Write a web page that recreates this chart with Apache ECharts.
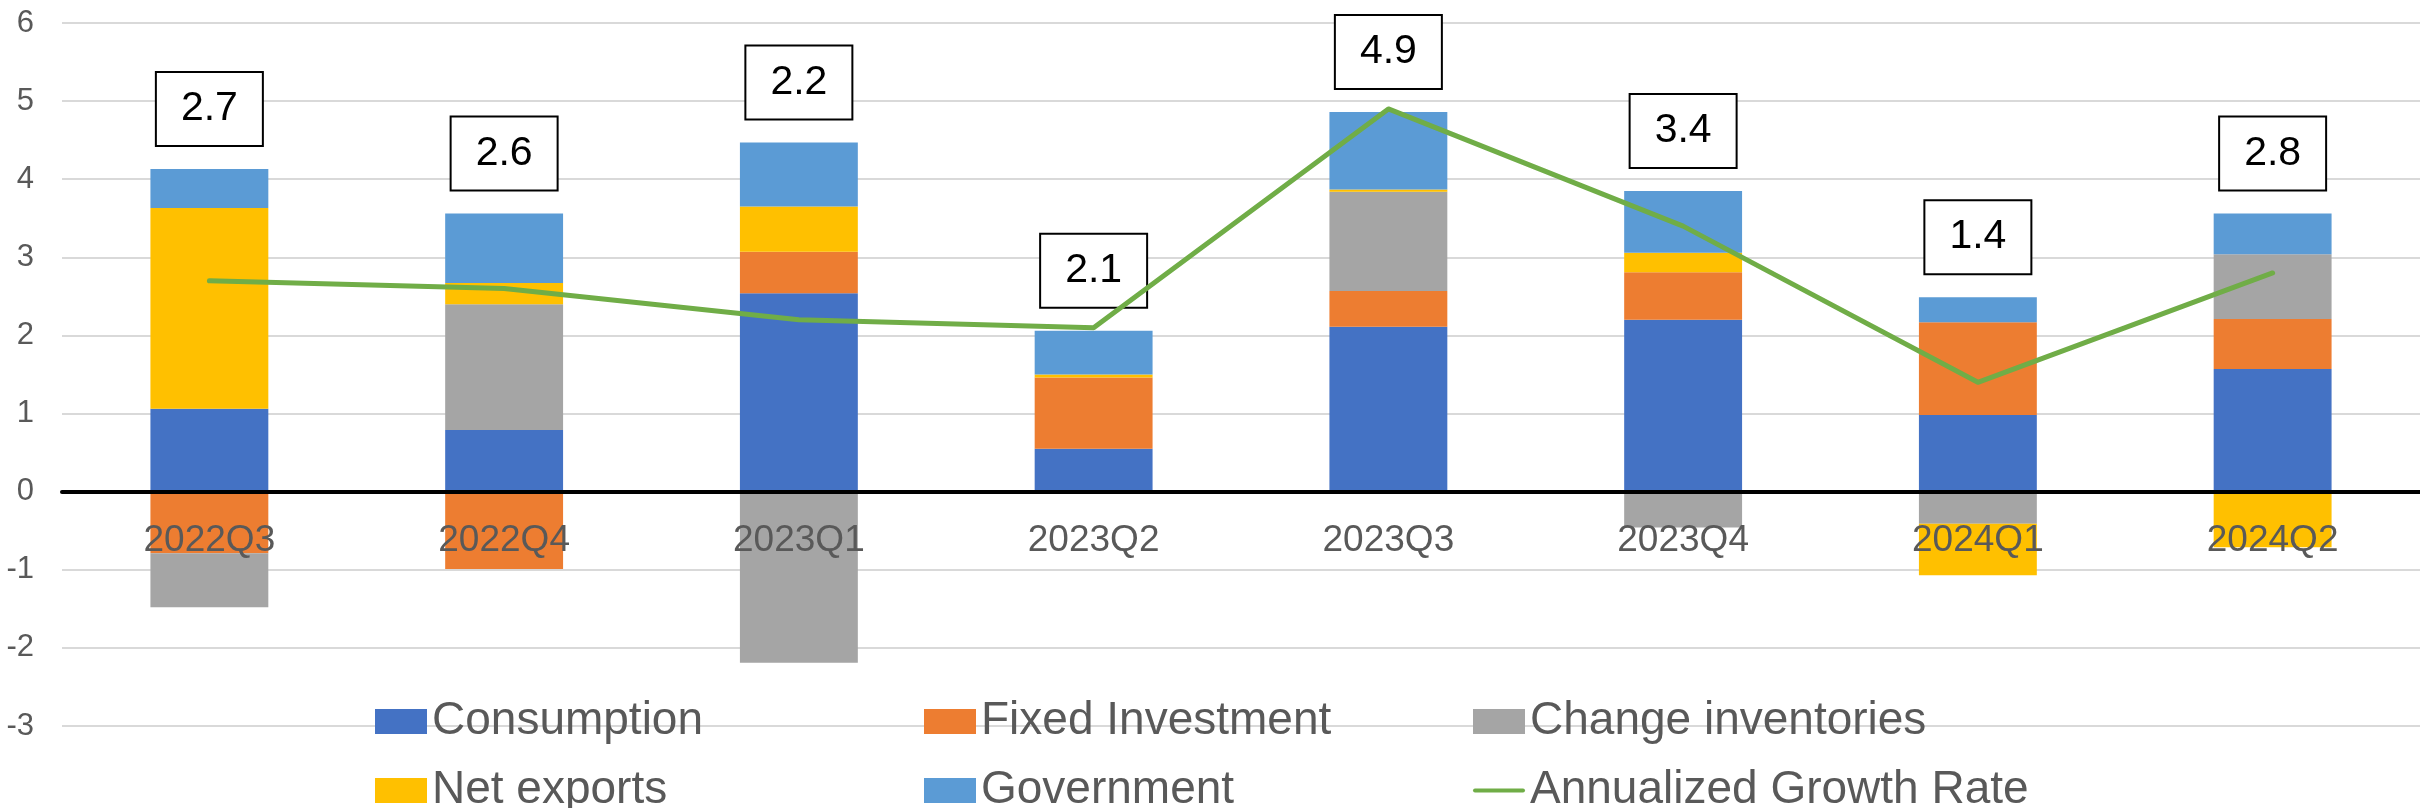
<!DOCTYPE html>
<html>
<head>
<meta charset="utf-8">
<script src="https://cdn.jsdelivr.net/npm/echarts@6/dist/echarts.min.js"></script>
<style>
  html, body { margin: 0; padding: 0; background: #ffffff; }
  #chart { width: 2420px; height: 808px; }
</style>
</head>
<body>
<div id="chart"></div>
<script>
const categories = ['2022Q3', '2022Q4', '2023Q1', '2023Q2', '2023Q3', '2023Q4', '2024Q1', '2024Q2'];
const consumption = [1.06, 0.79, 2.54, 0.55, 2.11, 2.20, 0.98, 1.57];
const fixedInvestment = [-0.79, -0.99, 0.53, 0.91, 0.46, 0.61, 1.19, 0.64];
const changeInventories = [-0.69, 1.61, -2.19, 0.00, 1.27, -0.46, -0.41, 0.83];
const netExports = [2.57, 0.27, 0.58, 0.04, 0.03, 0.25, -0.66, -0.71];
const government = [0.50, 0.89, 0.82, 0.56, 0.99, 0.79, 0.32, 0.52];
const growthRate = [2.7, 2.6, 2.2, 2.1, 4.9, 3.4, 1.4, 2.8];
const yTicks = { min: -3, max: 6, interval: 1 };

const FONT = '"Liberation Sans", Arial, sans-serif';
const LINE_ICON = 'path://M0,0 L0,0 M2,10.5 H50 A2,2 0 0 1 50,14.5 H2 A2,2 0 0 1 2,10.5 Z M52,25 L52,25';
const chart = echarts.init(document.getElementById('chart'), null, { renderer: 'canvas' });

function barSeries(name, data, color, extra) {
  return Object.assign({
    name: name,
    type: 'bar',
    stack: 'gdp',
    data: data,
    barWidth: '40%',
    itemStyle: { color: color },
    emphasis: { disabled: true }
  }, extra || {});
}

const option = {
  animation: false,
  backgroundColor: '#ffffff',
  grid: { left: 62, right: 0, top: 23, bottom: 82, containLabel: false },
  legend: {
    left: 375,
    top: 697,
    padding: 0,
    width: 1700,
    itemWidth: 52,
    itemHeight: 25,
    itemGap: 20,
    icon: 'rect',
    textStyle: { fontFamily: FONT, fontSize: 46, color: '#595959', width: 472, lineHeight: 49 },
    selectedMode: false,
    data: [
      { name: 'Consumption', icon: 'rect' },
      { name: 'Fixed Investment', icon: 'rect' },
      { name: 'Change inventories', icon: 'rect' },
      { name: 'Net exports', icon: 'rect' },
      { name: 'Government', icon: 'rect' },
      { name: 'Annualized Growth Rate', icon: LINE_ICON, itemStyle: { color: '#70AD47', borderWidth: 0 } }
    ]
  },
  xAxis: {
    type: 'category',
    data: categories,
    z: 10,
    axisLine: { onZero: true, lineStyle: { color: '#000000', width: 4 } },
    axisTick: { show: false },
    axisLabel: { fontFamily: FONT, fontSize: 37, color: '#595959', margin: -204 }
  },
  yAxis: {
    type: 'value',
    min: yTicks.min,
    max: yTicks.max,
    interval: yTicks.interval,
    axisLine: { show: false },
    axisTick: { show: false },
    axisLabel: { fontFamily: FONT, fontSize: 31, color: '#595959', margin: 28 },
    splitLine: { lineStyle: { color: '#D9D9D9', width: 2 } }
  },
  series: [
    barSeries('Consumption', consumption, '#4472C4'),
    barSeries('Fixed Investment', fixedInvestment, '#ED7D31'),
    barSeries('Change inventories', changeInventories, '#A5A5A5'),
    barSeries('Net exports', netExports, '#FFC000'),
    barSeries('Government', government, '#5B9BD5', {
      label: {
        show: true,
        position: 'top',
        distance: 24,
        formatter: function (p) { return growthRate[p.dataIndex].toFixed(1); },
        fontFamily: FONT,
        fontSize: 41,
        lineHeight: 50,
        color: '#000000',
        backgroundColor: '#ffffff',
        borderColor: '#000000',
        borderWidth: 2,
        padding: [11, 24, 11, 24]
      }
    }),
    {
      name: 'Annualized Growth Rate',
      type: 'line',
      data: growthRate,
      symbol: 'none',
      z: 5,
      lineStyle: { color: '#70AD47', width: 5, cap: 'round', join: 'round' },
      itemStyle: { color: '#70AD47' },
      emphasis: { disabled: true }
    }
  ]
};

chart.setOption(option);
</script>
</body>
</html>
